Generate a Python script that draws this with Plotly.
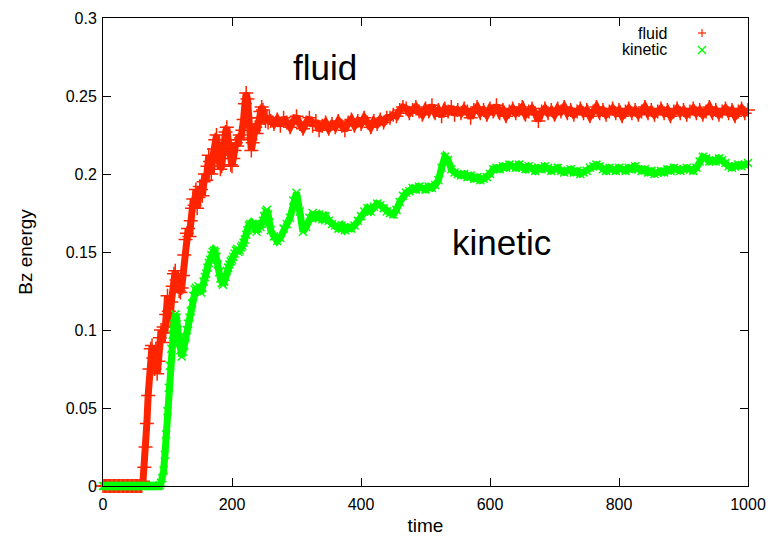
import numpy as np
import plotly.graph_objects as go

# ---- data ----
time_fine = np.arange(0, 262, 2)      # 0..260 step 2  (131 points)
time_coarse = np.arange(265, 1001, 5)  # 265..1000 step 5 (148 points)

fluid_fine = [0.0] * 31 + [
    0.003, 0.012, 0.025, 0.040, 0.058, 0.075, 0.088, 0.090, 0.082, 0.075,
    0.088, 0.072, 0.080, 0.095, 0.100, 0.092, 0.102, 0.098, 0.110, 0.122,
    0.112, 0.106, 0.118, 0.128, 0.136, 0.138, 0.132, 0.128, 0.125, 0.124,
    0.127, 0.135, 0.148, 0.158, 0.162, 0.165, 0.160, 0.170, 0.178, 0.184,
    0.180, 0.190, 0.178, 0.185, 0.192, 0.190, 0.186, 0.195, 0.200, 0.196,
    0.205, 0.212, 0.208, 0.200, 0.210, 0.216, 0.222, 0.225, 0.215, 0.210,
    0.203, 0.205, 0.210, 0.220, 0.227, 0.230, 0.222, 0.212, 0.206, 0.205,
    0.210, 0.215, 0.220, 0.218, 0.222, 0.225, 0.223, 0.228, 0.235, 0.245,
    0.252, 0.248, 0.236, 0.222, 0.215, 0.220, 0.228, 0.230, 0.226, 0.232,
    0.236, 0.240, 0.243, 0.241, 0.236, 0.234, 0.237, 0.233, 0.236, 0.234,
]
fluid_coarse = [
    0.232, 0.235, 0.231, 0.236, 0.233, 0.230, 0.234, 0.237, 0.232, 0.229,
    0.233, 0.236, 0.231, 0.234, 0.228, 0.231, 0.233, 0.229, 0.232, 0.230,
    0.234, 0.231, 0.228, 0.233, 0.235, 0.231, 0.234, 0.232, 0.236, 0.233,
    0.230, 0.234, 0.232, 0.235, 0.233, 0.236, 0.236, 0.238, 0.237, 0.241,
    0.243, 0.242, 0.239, 0.241, 0.243, 0.240, 0.238, 0.242, 0.240, 0.244,
    0.239, 0.241, 0.237, 0.242, 0.240, 0.243, 0.238, 0.241, 0.239, 0.242,
    0.240, 0.236, 0.241, 0.243, 0.239, 0.241, 0.238, 0.242, 0.240, 0.244,
    0.239, 0.241, 0.237, 0.240, 0.242, 0.239, 0.241, 0.243, 0.238, 0.240,
    0.242, 0.239, 0.234, 0.240, 0.242, 0.239, 0.241, 0.238, 0.242, 0.240,
    0.243, 0.239, 0.241, 0.238, 0.240, 0.242, 0.239, 0.241, 0.237, 0.240,
    0.243, 0.239, 0.241, 0.238, 0.240, 0.242, 0.239, 0.241, 0.237, 0.240,
    0.242, 0.239, 0.241, 0.238, 0.240, 0.243, 0.239, 0.241, 0.238, 0.240,
    0.242, 0.239, 0.241, 0.237, 0.240, 0.242, 0.239, 0.241, 0.238, 0.240,
    0.242, 0.239, 0.241, 0.238, 0.240, 0.243, 0.239, 0.241, 0.238, 0.240,
    0.242, 0.239, 0.241, 0.237, 0.240, 0.242, 0.239, 0.241,
]

kinetic_fine = [0.0] * 44 + [
    0.0005, 0.002, 0.005, 0.010, 0.020, 0.033, 0.048, 0.063, 0.077, 0.088,
    0.097, 0.104, 0.110, 0.108, 0.100, 0.092, 0.087, 0.083, 0.086, 0.090,
    0.095, 0.100, 0.104, 0.108, 0.112, 0.117, 0.122, 0.126, 0.127, 0.125,
    0.128, 0.126, 0.124, 0.127, 0.131, 0.134, 0.136, 0.140, 0.143, 0.145,
    0.148, 0.150, 0.151, 0.150, 0.147, 0.142, 0.137, 0.133, 0.130, 0.129,
    0.131, 0.134, 0.138, 0.140, 0.142, 0.144, 0.145, 0.147, 0.149, 0.151,
    0.152, 0.150, 0.151, 0.153, 0.154, 0.156, 0.158, 0.161, 0.164, 0.167,
    0.168, 0.166, 0.168, 0.167, 0.165, 0.163, 0.165, 0.168, 0.166, 0.168,
    0.170, 0.173, 0.176, 0.177, 0.174, 0.169, 0.164,
]
kinetic_coarse = [
    0.160, 0.157, 0.159, 0.165, 0.168, 0.172, 0.183, 0.188, 0.176, 0.163,
    0.166, 0.172, 0.175, 0.172, 0.174, 0.171, 0.173, 0.170, 0.168, 0.167,
    0.165, 0.167, 0.164, 0.166, 0.165, 0.167, 0.170, 0.173, 0.176, 0.178,
    0.176, 0.179, 0.181, 0.180, 0.178, 0.176, 0.175, 0.174, 0.177, 0.182,
    0.186, 0.188, 0.189, 0.191, 0.190, 0.192, 0.191, 0.190, 0.192, 0.191,
    0.193, 0.196, 0.204, 0.211, 0.209, 0.203, 0.201, 0.200, 0.199, 0.200,
    0.198, 0.199, 0.197, 0.198, 0.196, 0.197, 0.198, 0.200, 0.203, 0.204,
    0.203, 0.205, 0.204, 0.206, 0.205, 0.204, 0.206, 0.204, 0.203, 0.205,
    0.204, 0.202, 0.204, 0.203, 0.205, 0.204, 0.202, 0.203, 0.204, 0.202,
    0.201, 0.202, 0.203, 0.201, 0.202, 0.200, 0.201, 0.202, 0.204, 0.205,
    0.206, 0.205, 0.203, 0.202, 0.204, 0.203, 0.202, 0.204, 0.203, 0.202,
    0.204, 0.203, 0.205, 0.203, 0.202, 0.203, 0.201, 0.202, 0.200, 0.201,
    0.202, 0.201, 0.203, 0.202, 0.204, 0.203, 0.202, 0.203, 0.204, 0.203,
    0.202, 0.204, 0.208, 0.211, 0.210, 0.208, 0.209, 0.208, 0.210, 0.209,
    0.207, 0.205, 0.204, 0.205, 0.206, 0.205, 0.206, 0.207,
]

time = np.concatenate([time_fine, time_coarse])
fluid = np.array(fluid_fine + fluid_coarse)
kinetic = np.array(kinetic_fine + kinetic_coarse)
assert len(time) == len(fluid) == len(kinetic)

series_names = ["fluid", "kinetic"]
x_ticks = [0, 200, 400, 600, 800, 1000]
y_ticks = [0, 0.05, 0.1, 0.15, 0.2, 0.25, 0.3]

RED = "#ff2400"
GREEN = "#00ff00"
FONT = "Liberation Sans, Arial, Helvetica, sans-serif"

fig = go.Figure()
# dense band (gnuplot draws thousands of overlapping points; a thick stroke fills the band)
fig.add_trace(go.Scatter(
    x=time, y=fluid, mode="lines", line=dict(color=RED, width=7),
    cliponaxis=False, showlegend=False, hoverinfo="skip",
))
fig.add_trace(go.Scatter(
    x=time, y=fluid, mode="markers", name=series_names[0],
    marker=dict(symbol="cross-thin", size=10, line=dict(color=RED, width=1.5)),
    cliponaxis=False, showlegend=False,
))
fig.add_trace(go.Scatter(
    x=time, y=kinetic, mode="lines", line=dict(color=GREEN, width=7),
    cliponaxis=False, showlegend=False, hoverinfo="skip",
))
fig.add_trace(go.Scatter(
    x=time, y=kinetic, mode="markers", name=series_names[1],
    marker=dict(symbol="x-thin", size=8, line=dict(color=GREEN, width=1.5)),
    cliponaxis=False, showlegend=False,
))

W, H = 772, 539
L, R, T, B = 103, 24, 18, 53
pw, ph = W - L - R, H - T - B


def px(x):
    return (x - L) / pw


def py(y):
    return (H - B - y) / ph


# gnuplot-style key: text right-aligned, symbol on the right
key_rows = [(series_names[0], 33, RED, "plus"), (series_names[1], 50, GREEN, "x")]
shapes = []
annotations = []
for name, yy, col, sym in key_rows:
    annotations.append(dict(
        xref="paper", yref="paper", x=px(669), y=py(yy), text=name,
        showarrow=False, xanchor="right", yanchor="middle",
        font=dict(family=FONT, size=16, color="black"),
    ))
    cx, cy, h = 702, yy, 4
    if sym == "plus":
        segs = [((cx - h, cy), (cx + h, cy)), ((cx, cy - h), (cx, cy + h))]
    else:
        segs = [((cx - h, cy - h), (cx + h, cy + h)), ((cx - h, cy + h), (cx + h, cy - h))]
    for (x0, y0), (x1, y1) in segs:
        shapes.append(dict(type="line", xref="paper", yref="paper",
                           x0=px(x0), y0=py(y0), x1=px(x1), y1=py(y1),
                           line=dict(color=col, width=1.2)))

annotations.append(dict(x=344, y=0.268, xref="x", yref="y", text="fluid",
                        showarrow=False, font=dict(family=FONT, size=35, color="black")))
annotations.append(dict(x=618, y=0.156, xref="x", yref="y", text="kinetic",
                        showarrow=False, font=dict(family=FONT, size=35, color="black")))

axis_common = dict(
    showline=True, linecolor="black", linewidth=1, mirror="allticks",
    ticks="inside", ticklen=8, tickcolor="black", tickwidth=1,
    showgrid=False, zeroline=False, automargin=False,
    tickfont=dict(family=FONT, size=16, color="black"),
)

fig.update_layout(
    width=W, height=H,
    margin=dict(l=L, r=R, t=T, b=B),
    paper_bgcolor="white", plot_bgcolor="white",
    xaxis=dict(range=[0, 1000], tickvals=x_ticks, ticklabelstandoff=4,
               title=dict(text="time", font=dict(family=FONT, size=19, color="black"), standoff=6),
               **axis_common),
    yaxis=dict(range=[0, 0.3], tickvals=y_ticks, ticklabelstandoff=2,
               title=dict(text="Bz energy", font=dict(family=FONT, size=19, color="black"), standoff=28),
               **axis_common),
    shapes=shapes,
    annotations=annotations,
    showlegend=False,
)

fig.write_html("out.html")
